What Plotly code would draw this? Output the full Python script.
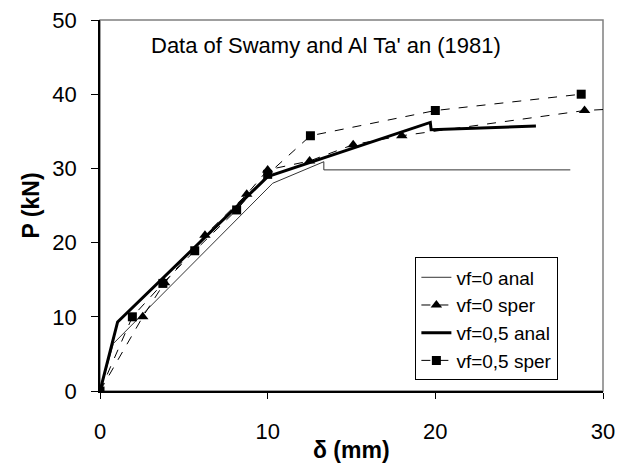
import plotly.graph_objects as go

# vf=0 analytical (thin line)
x_vf0_anal = [0, 0.8, 10.3, 13.35, 13.35, 28.05]
y_vf0_anal = [0, 6.4, 28.0, 30.9, 29.8, 29.8]

# vf=0 experimental (triangles)
x_vf0_sper = [0, 2.55, 3.85, 6.26, 8.75, 10.0, 12.5, 15.1, 18.0, 28.9, 33.0]
y_vf0_sper = [0, 10.0, 14.6, 21.0, 26.5, 29.8, 31.0, 33.2, 34.4, 37.8, 38.3]

# vf=0,5 analytical (thick line)
x_vf05_anal = [0, 1.05, 10.0, 19.7, 19.75, 26.0]
y_vf05_anal = [0, 9.3, 28.9, 36.2, 35.2, 35.7]

# vf=0,5 experimental (squares)
x_vf05_sper = [0, 1.93, 3.75, 5.65, 8.15, 10.0, 12.55, 20.0, 28.7]
y_vf05_sper = [0, 10.0, 14.5, 18.9, 24.4, 29.2, 34.4, 37.8, 40.0]

font_family = "Arial, Liberation Sans, sans-serif"

fig = go.Figure()

fig.add_trace(go.Scatter(
    x=x_vf0_anal, y=y_vf0_anal, name="vf=0 anal", mode="lines",
    line=dict(color="#333333", width=1)))
fig.add_trace(go.Scatter(
    x=x_vf0_sper, y=y_vf0_sper, name="vf=0 sper", mode="lines+markers",
    line=dict(color="black", width=1, dash="dash"),
    marker=dict(symbol="triangle-up", size=10, color="black")))
fig.add_trace(go.Scatter(
    x=x_vf05_anal, y=y_vf05_anal, name="vf=0,5 anal", mode="lines",
    line=dict(color="black", width=3)))
fig.add_trace(go.Scatter(
    x=x_vf05_sper, y=y_vf05_sper, name="vf=0,5 sper", mode="lines+markers",
    line=dict(color="black", width=1, dash="dash"),
    marker=dict(symbol="square", size=9, color="black")))

# the page body has an 8px margin, so margins are offset by 8px
fig.update_layout(
    width=630, height=471,
    margin=dict(l=92, r=35, t=12, b=88),
    plot_bgcolor="white", paper_bgcolor="white",
    font=dict(family=font_family, size=22, color="black"),
    showlegend=True,
    legend=dict(
        x=0.627, y=0.36, xanchor="left", yanchor="top",
        bgcolor="white", bordercolor="black", borderwidth=1,
        font=dict(size=19), tracegroupgap=0,
    ),
    annotations=[
        dict(text="Data of Swamy and Al Ta' an (1981)",
             xref="paper", yref="paper", x=0.0974, y=0.93,
             xanchor="left", yanchor="middle", showarrow=False,
             font=dict(size=22)),
        # axis titles
        dict(text="<b>δ (mm)</b>", xref="paper", yref="paper",
             x=0.5, y=0, yshift=-59, xanchor="center", yanchor="middle",
             showarrow=False, font=dict(size=23)),
        dict(text="<b>P (kN)</b>", xref="paper", yref="paper",
             x=0, y=0.5, xshift=-70, xanchor="center", yanchor="middle",
             textangle=-90, showarrow=False, font=dict(size=23)),
    ],
    # grey plot-area frame (top and right edges)
    shapes=[dict(
        type="rect", xref="paper", yref="paper", x0=0, x1=1, y0=0, y1=1,
        line=dict(color="#808080", width=1.5), layer="below",
    )],
)

fig.update_xaxes(
    range=[0, 30], dtick=10, showgrid=False, zeroline=False,
    showline=True, linecolor="black", linewidth=1.5,
    ticks="outside", ticklen=6, tickcolor="black",
    ticklabelstandoff=14, ticklabeloverflow="allow", automargin=False,
)
fig.update_yaxes(
    range=[0, 50], dtick=10, showgrid=False, zeroline=False,
    showline=True, linecolor="black", linewidth=1.5,
    ticks="outside", ticklen=7, tickcolor="black",
    ticklabelstandoff=10, ticklabeloverflow="allow", automargin=False,
)

fig.write_html("out.html")
